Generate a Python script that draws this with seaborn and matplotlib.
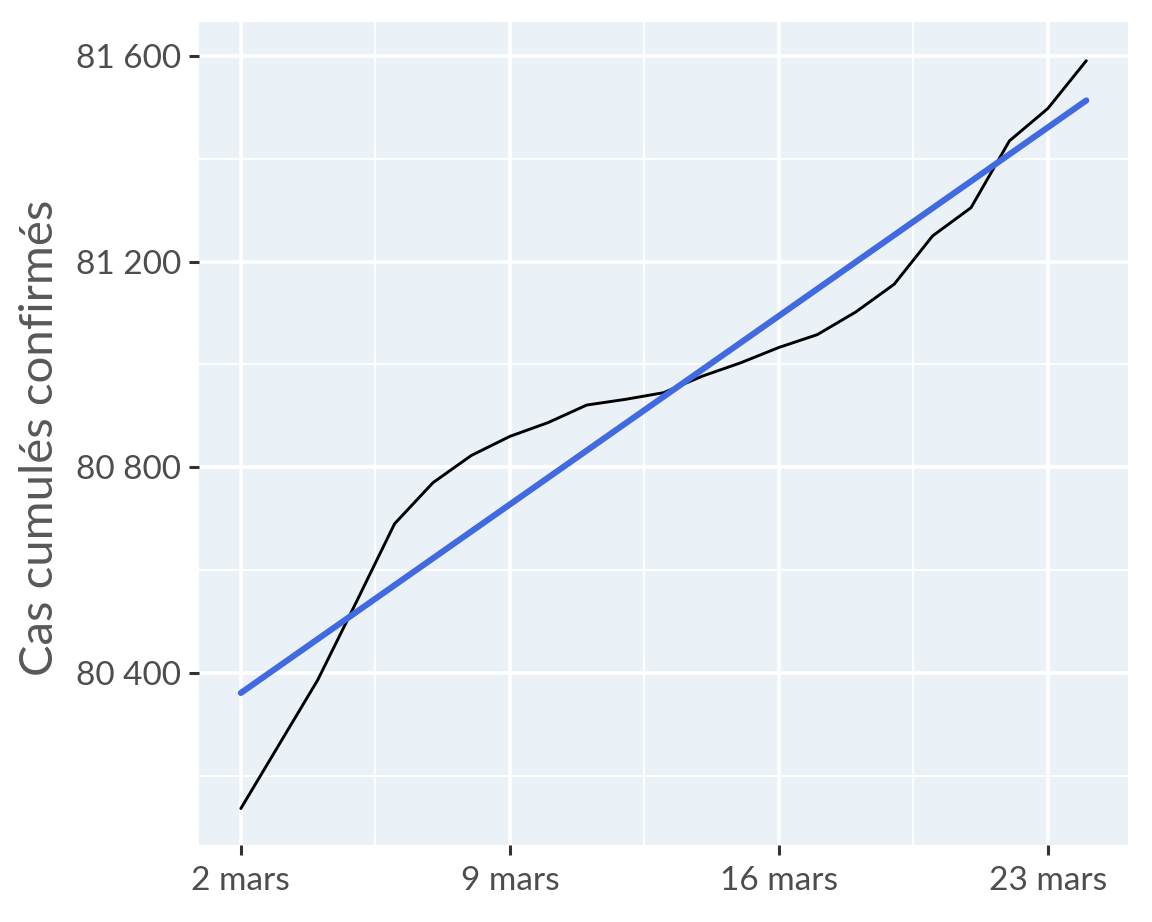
import matplotlib
matplotlib.use("Agg")
import matplotlib.pyplot as plt
import matplotlib.ticker as mticker
import seaborn as sns
import pandas as pd

# Data: day of March 2020 and cumulative confirmed cases
days = list(range(2, 25))
cases = [80136, 80261, 80386, 80537, 80690, 80770, 80823, 80860, 80887, 80921,
         80932, 80945, 80977, 81003, 81033, 81058, 81102, 81156, 81250, 81305,
         81435, 81498, 81591]
tick_days = [2, 9, 16, 23]
tick_labels = ["2 mars", "9 mars", "16 mars", "23 mars"]
y_ticks = [80400, 80800, 81200, 81600]
y_minor = [80200, 80600, 81000, 81400]

df = pd.DataFrame({"jour": days, "cas": cases})

sns.set_theme(style="white")
plt.rcParams["font.family"] = ["Lato", "DejaVu Sans"]

fig = plt.figure(figsize=(11.52, 9.22), dpi=100)
ax = fig.add_axes([0.1727, 0.0835, 0.8063, 0.8925])
ax.set_facecolor("#EAF2F7")

sns.lineplot(data=df, x="jour", y="cas", color="black", linewidth=2.1, ax=ax, zorder=3)
sns.regplot(data=df, x="jour", y="cas", ci=None, scatter=False, ax=ax,
            line_kws={"color": "#4169E1", "linewidth": 4.4, "zorder": 4})

ax.set_xlim(0.91, 25.08)
ax.set_ylim(80065, 81666)

ax.set_xticks(tick_days)
ax.set_xticklabels(tick_labels)
ax.set_xticks([5.5, 12.5, 19.5], minor=True)
ax.set_yticks(y_ticks)
ax.set_yticks(y_minor, minor=True)
ax.yaxis.set_major_formatter(mticker.FuncFormatter(lambda v, p: f"{int(v):,}".replace(",", " ")))

ax.grid(True, which="major", color="white", linewidth=2.6)
ax.grid(True, which="minor", color="white", linewidth=1.4)
ax.set_axisbelow(True)
for s in ax.spines.values():
    s.set_visible(False)

ax.tick_params(axis="both", which="major", length=7, width=2.2, color="#333333",
               labelsize=24, labelcolor="#4D4D4D", pad=6, left=True, bottom=True)
ax.tick_params(axis="x", which="major", pad=8)
ax.tick_params(axis="both", which="minor", length=0)

ax.set_xlabel("")
ax.set_ylabel("Cas cumulés confirmés", fontsize=34, color="#58585A")
ax.yaxis.set_label_coords(-0.149, 0.495)

fig.savefig("out.png", dpi=100, facecolor="white")
